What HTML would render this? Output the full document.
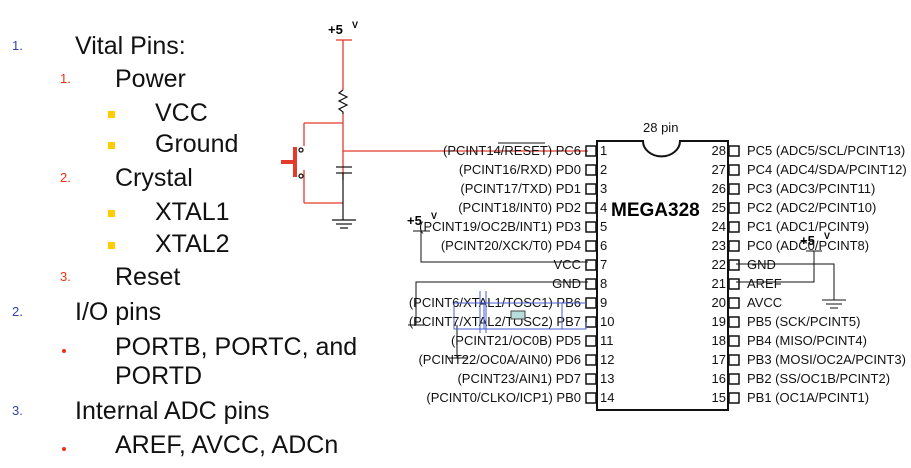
<!DOCTYPE html>
<html><head><meta charset="utf-8"><style>
body{margin:0;background:#fff;width:911px;height:468px;overflow:hidden}
svg{display:block}
.l{font-family:"Liberation Sans",sans-serif;font-size:25px;fill:#111}
.s{font-family:"Liberation Sans",sans-serif;font-size:13px;fill:#111}
</style></head><body>
<svg width="911" height="468" xmlns="http://www.w3.org/2000/svg">
<g class="l">
<text x="75" y="54">Vital Pins:</text>
<text x="115" y="87">Power</text>
<text x="155" y="121">VCC</text>
<text x="155" y="152">Ground</text>
<text x="115" y="186">Crystal</text>
<text x="155" y="220">XTAL1</text>
<text x="155" y="252">XTAL2</text>
<text x="115" y="285">Reset</text>
<text x="75" y="320">I/O pins</text>
<text x="115" y="355">PORTB, PORTC, and</text>
<text x="115" y="384">PORTD</text>
<text x="75" y="419">Internal ADC pins</text>
<text x="115" y="453">AREF, AVCC, ADCn</text>
</g>
<g font-family="Liberation Sans,sans-serif" font-size="13">
<text x="12" y="50" fill="#3344aa">1.</text>
<text x="60" y="83" fill="#ee3311">1.</text>
<text x="60" y="182" fill="#ee3311">2.</text>
<text x="60" y="281" fill="#ee3311">3.</text>
<text x="12" y="316" fill="#3344aa">2.</text>
<text x="12" y="415" fill="#3344aa">3.</text>
</g>
<g fill="#ffcc00"><rect x="108" y="111" width="7" height="7"/><rect x="108" y="142" width="7" height="7"/><rect x="108" y="210" width="7" height="7"/><rect x="108" y="242" width="7" height="7"/></g>
<g fill="#ee3311"><circle cx="64" cy="351" r="2"/><circle cx="64" cy="449" r="2"/></g>

<text x="328" y="34" font-family="Liberation Sans,sans-serif" font-size="13" font-weight="bold">+5</text>
<text x="352" y="28" font-family="Liberation Sans,sans-serif" font-size="9" font-weight="bold">V</text>
<g stroke="#e53a2a" fill="none" stroke-width="1.3">
<line x1="336" y1="40" x2="352" y2="40"/>
<line x1="343" y1="40" x2="343" y2="90"/>
<line x1="343" y1="114" x2="343" y2="180"/>
<line x1="304" y1="123" x2="343" y2="123"/>
<line x1="304" y1="123" x2="304" y2="146"/>
<line x1="304" y1="170" x2="304" y2="203"/>
<line x1="304" y1="203" x2="343" y2="203"/>
<line x1="343" y1="151" x2="588" y2="151"/>
</g>
<polyline points="343,90 339,93 347,97 339,101 347,105 339,109 343,112 343,114" fill="none" stroke="#111" stroke-width="1.2"/>
<g stroke="#111" stroke-width="1.2">
<line x1="336" y1="167" x2="352" y2="167"/><line x1="336" y1="173" x2="352" y2="173"/>
<line x1="343" y1="173" x2="343" y2="220"/>
<line x1="332" y1="220" x2="356" y2="220"/><line x1="336" y1="224" x2="352" y2="224"/><line x1="340" y1="228" x2="348" y2="228"/>
</g>
<rect x="293" y="147" width="4" height="30" fill="#e53a2a"/>
<rect x="281" y="160" width="13" height="4" fill="#e53a2a"/>
<circle cx="301" cy="150" r="2" fill="none" stroke="#111" stroke-width="1.3"/>
<circle cx="301" cy="176" r="2" fill="none" stroke="#111" stroke-width="1.3"/>

<path d="M597,141 H643 A18,15 0 0 0 680,141 H728 V410 H597 Z" fill="none" stroke="#111" stroke-width="2"/>
<text x="643" y="132" class="s">28 pin</text>
<text x="611" y="216" font-family="Liberation Sans,sans-serif" font-size="19" font-weight="bold">MEGA328</text>
<g class="s">
<g text-anchor="end">
<text x="581" y="155">(PCINT14/RESET) PC6</text>
<text x="581" y="174">(PCINT16/RXD) PD0</text>
<text x="581" y="193">(PCINT17/TXD) PD1</text>
<text x="581" y="212">(PCINT18/INT0) PD2</text>
<text x="581" y="231">(PCINT19/OC2B/INT1) PD3</text>
<text x="581" y="250">(PCINT20/XCK/T0) PD4</text>
<text x="581" y="269">VCC</text>
<text x="581" y="288">GND</text>
<text x="581" y="307">(PCINT6/XTAL1/TOSC1) PB6</text>
<text x="581" y="326">(PCINT7/XTAL2/TOSC2) PB7</text>
<text x="581" y="345">(PCINT21/OC0B) PD5</text>
<text x="581" y="364">(PCINT22/OC0A/AIN0) PD6</text>
<text x="581" y="383">(PCINT23/AIN1) PD7</text>
<text x="581" y="402">(PCINT0/CLKO/ICP1) PB0</text>
<text x="726" y="155">28</text><text x="726" y="174">27</text><text x="726" y="193">26</text><text x="726" y="212">25</text><text x="726" y="231">24</text><text x="726" y="250">23</text><text x="726" y="269">22</text><text x="726" y="288">21</text><text x="726" y="307">20</text><text x="726" y="326">19</text><text x="726" y="345">18</text><text x="726" y="364">17</text><text x="726" y="383">16</text><text x="726" y="402">15</text>
</g>
<text x="600" y="155">1</text><text x="600" y="174">2</text><text x="600" y="193">3</text><text x="600" y="212">4</text><text x="600" y="231">5</text><text x="600" y="250">6</text><text x="600" y="269">7</text><text x="600" y="288">8</text><text x="600" y="307">9</text><text x="600" y="326">10</text><text x="600" y="345">11</text><text x="600" y="364">12</text><text x="600" y="383">13</text><text x="600" y="402">14</text>
<text x="747" y="155">PC5 (ADC5/SCL/PCINT13)</text>
<text x="747" y="174">PC4 (ADC4/SDA/PCINT12)</text>
<text x="747" y="193">PC3 (ADC3/PCINT11)</text>
<text x="747" y="212">PC2 (ADC2/PCINT10)</text>
<text x="747" y="231">PC1 (ADC1/PCINT9)</text>
<text x="747" y="250">PC0 (ADC0/PCINT8)</text>
<text x="747" y="269">GND</text>
<text x="747" y="288">AREF</text>
<text x="747" y="307">AVCC</text>
<text x="747" y="326">PB5 (SCK/PCINT5)</text>
<text x="747" y="345">PB4 (MISO/PCINT4)</text>
<text x="747" y="364">PB3 (MOSI/OC2A/PCINT3)</text>
<text x="747" y="383">PB2 (SS/OC1B/PCINT2)</text>
<text x="747" y="402">PB1 (OC1A/PCINT1)</text>
</g>
<line x1="498" y1="143" x2="545" y2="143" stroke="#111"/>
<g fill="none" stroke="#111" stroke-width="1.5">
<rect x="586" y="146" width="10" height="10"/><rect x="586" y="165" width="10" height="10"/><rect x="586" y="184" width="10" height="10"/><rect x="586" y="203" width="10" height="10"/><rect x="586" y="222" width="10" height="10"/><rect x="586" y="241" width="10" height="10"/><rect x="586" y="260" width="10" height="10"/><rect x="586" y="279" width="10" height="10"/><rect x="586" y="298" width="10" height="10"/><rect x="586" y="317" width="10" height="10"/><rect x="586" y="336" width="10" height="10"/><rect x="586" y="355" width="10" height="10"/><rect x="586" y="374" width="10" height="10"/><rect x="586" y="393" width="10" height="10"/>
<rect x="729" y="146" width="10" height="10"/><rect x="729" y="165" width="10" height="10"/><rect x="729" y="184" width="10" height="10"/><rect x="729" y="203" width="10" height="10"/><rect x="729" y="222" width="10" height="10"/><rect x="729" y="241" width="10" height="10"/><rect x="729" y="260" width="10" height="10"/><rect x="729" y="279" width="10" height="10"/><rect x="729" y="298" width="10" height="10"/><rect x="729" y="317" width="10" height="10"/><rect x="729" y="336" width="10" height="10"/><rect x="729" y="355" width="10" height="10"/><rect x="729" y="374" width="10" height="10"/><rect x="729" y="393" width="10" height="10"/>
</g>
<text x="407" y="225" font-family="Liberation Sans,sans-serif" font-size="13" font-weight="bold">+5</text>
<text x="431" y="219" font-family="Liberation Sans,sans-serif" font-size="9" font-weight="bold">V</text>
<g stroke="#111" fill="none" stroke-width="1">
<line x1="413" y1="231" x2="430" y2="231"/>
<polyline points="421,231 421,262 588,262"/>
<polyline points="588,282 416,282 416,325"/>
<line x1="408" y1="325" x2="424" y2="325"/>
<line x1="457" y1="325" x2="457" y2="358"/>
<line x1="448" y1="358" x2="468" y2="358"/>
</g>
<g stroke="#4a5ed0" fill="none" stroke-width="1">
<polyline points="454,303 586,303"/>
<polyline points="454,303 454,329 586,329 586,322"/>
<line x1="480" y1="291" x2="480" y2="333"/><line x1="486" y1="291" x2="486" y2="333"/>
<line x1="484" y1="303" x2="484" y2="329"/>
<line x1="562" y1="303" x2="562" y2="329"/>
</g>
<rect x="511" y="311" width="14" height="8" fill="#b8dcdc" stroke="#444"/>
<text x="800" y="245" font-family="Liberation Sans,sans-serif" font-size="13" font-weight="bold">+5</text>
<text x="824" y="239" font-family="Liberation Sans,sans-serif" font-size="9" font-weight="bold">V</text>
<g stroke="#111" fill="none" stroke-width="1">
<line x1="806" y1="251" x2="822" y2="251"/>
<polyline points="814,251 814,282 736,282"/>
<polyline points="736,264 834,264 834,300"/>
<line x1="822" y1="300" x2="846" y2="300"/><line x1="826" y1="304" x2="842" y2="304"/><line x1="830" y1="308" x2="838" y2="308"/>
</g>
</svg>
</body></html>
